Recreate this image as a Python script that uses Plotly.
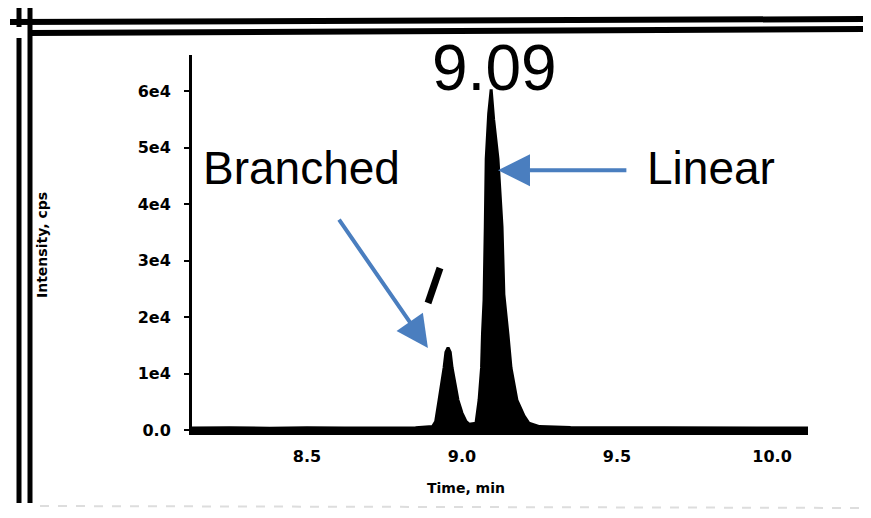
import plotly.graph_objects as go

# ---- data ----
time_min = [8.129, 8.25, 8.38, 8.50, 8.62, 8.75, 8.85, 8.905, 8.915, 8.926, 8.935, 8.942,
            8.948, 8.955, 8.962, 8.968, 8.977, 8.987, 9.000, 9.012, 9.023, 9.035,
            9.045, 9.055, 9.063, 9.066, 9.071, 9.075, 9.078, 9.086, 9.094, 9.102,
            9.116, 9.129, 9.135, 9.148, 9.158, 9.177, 9.200, 9.216, 9.250,
            9.35, 9.50, 9.65, 9.80, 9.95, 10.116]
intensity_cps = [350, 400, 300, 400, 350, 450, 400, 600, 1500, 5300, 8300, 11000,
                 13800, 14600, 13800, 11000, 8300, 5300, 3000, 1600, 1000, 1100,
                 1200, 5300, 11000, 17000, 23000, 36000, 48000, 56000, 60300, 55000,
                 48000, 36000, 24000, 17000, 11000, 5300, 2500, 1200, 600,
                 450, 400, 450, 400, 350, 350]

y_tick_vals = [0, 10000, 20000, 30000, 40000, 50000, 60000]
y_tick_text = ["0.0", "1e4", "2e4", "3e4", "4e4", "5e4", "6e4"]
x_tick_vals = [8.5, 9.0, 9.5, 10.0]
x_tick_text = ["8.5", "9.0", "9.5", "10.0"]

peak_label = "9.09"
label_branched = "Branched"
label_linear = "Linear"
x_title = "Time, min"
y_title = "Intensity, cps"

# ---- layout geometry (screen pixels; page body has an 8px margin) ----
OFF = 8
W, H = 871 - OFF, 518 - OFF
PL, PR, PT, PB = 192, 808, 55, 430          # plot area in screen px
L, R, T, B = PL - OFF, W - (PR - OFF), PT - OFF, H - (PB - OFF)
PW, PH = PR - PL, PB - PT


def px(x):
    return (x - PL) / PW


def py(y):
    return (PB - y) / PH


fig = go.Figure()
fig.add_trace(go.Scatter(x=time_min, y=intensity_cps, mode="lines",
                         line=dict(color="black", width=3),
                         fill="tozeroy", fillcolor="black",
                         hoverinfo="skip", showlegend=False))

tick_font = dict(family="DejaVu Sans", size=16, color="black", weight="bold")

fig.update_layout(
    width=W, height=H,
    margin=dict(l=L, r=R, t=T, b=B, pad=0),
    paper_bgcolor="white", plot_bgcolor="white",
    showlegend=False,
    xaxis=dict(range=[8.129, 10.116], showgrid=False, zeroline=False,
               showline=True, linecolor="black", linewidth=5,
               tickvals=x_tick_vals, ticktext=x_tick_text, ticks="",
               tickfont=tick_font, ticklabelstandoff=8),
    yaxis=dict(range=[0, 66400], showgrid=False, zeroline=False,
               showline=True, linecolor="black", linewidth=3,
               tickvals=y_tick_vals, ticktext=y_tick_text, ticks="outside",
               ticklen=5, tickwidth=2, tickcolor="black",
               tickfont=tick_font, ticklabelstandoff=10),
)

blue = "#4A7EBF"
ann = [
    dict(text=peak_label, x=px(494), y=py(68), xref="paper", yref="paper",
         showarrow=False, font=dict(family="Liberation Sans", size=64, color="black"),
         xanchor="center", yanchor="middle"),
    dict(text=label_branched, x=px(301), y=py(168), xref="paper", yref="paper",
         showarrow=False, font=dict(family="Liberation Sans", size=46, color="black"),
         xanchor="center", yanchor="middle"),
    dict(text=label_linear, x=px(711), y=py(168), xref="paper", yref="paper",
         showarrow=False, font=dict(family="Liberation Sans", size=46, color="black"),
         xanchor="center", yanchor="middle"),
    dict(text=x_title, x=px(466), y=py(488), xref="paper", yref="paper",
         showarrow=False, font=dict(family="DejaVu Sans", size=14, color="black", weight="bold"),
         xanchor="center", yanchor="middle"),
    dict(text=y_title, x=px(42), y=py(245), xref="paper", yref="paper", textangle=-90,
         showarrow=False, font=dict(family="DejaVu Sans", size=14, color="black", weight="bold"),
         xanchor="center", yanchor="middle"),
    # arrows
    dict(text="", x=9.116, y=46000, ax=9.535, ay=46000, xref="x", yref="y",
         axref="x", ayref="y", showarrow=True, arrowhead=2, arrowsize=1.6,
         arrowwidth=4, arrowcolor=blue),
    dict(text="", x=8.890, y=14500, ax=8.600, ay=37500, xref="x", yref="y",
         axref="x", ayref="y", showarrow=True, arrowhead=2, arrowsize=1.6,
         arrowwidth=4, arrowcolor=blue),
]
fig.update_layout(annotations=ann)


def seg(x0, y0, x1, y1, w, color="black", dash=None):
    d = dict(type="line", xref="paper", yref="paper",
             x0=px(x0), y0=py(y0), x1=px(x1), y1=py(y1),
             line=dict(color=color, width=w))
    if dash:
        d["line"]["dash"] = dash
    return d


shapes = [
    # scanned frame lines
    seg(19, 8, 19, 27, 5),
    seg(19, 38, 19, 503, 5),
    seg(30, 8, 30, 503, 5),
    seg(10, 22, 871, 19, 6),
    seg(30, 33, 871, 29, 6),
    seg(40, 506, 871, 508, 2, color="#dddddd", dash="dash"),
    # scan artifact mark
    seg(440, 268, 428, 303, 7),
]
fig.update_layout(shapes=shapes)

fig.write_html("out.html")
